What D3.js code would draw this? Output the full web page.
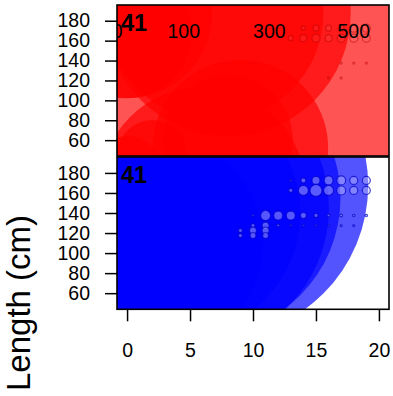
<!DOCTYPE html>
<html><head><meta charset="utf-8">
<script src="https://cdn.jsdelivr.net/npm/d3@7"></script>
<style>
body{margin:0;background:#fff}
svg{display:block}
text{font-family:"Liberation Sans",Arial,Helvetica,sans-serif}
</style>
</head><body>
<svg id="c" width="393" height="396"></svg>
<script>
// ---------- data ----------
const xTicks = [0, 5, 10, 15, 20];
const yTicks = [60, 80, 100, 120, 140, 160, 180];
const panelLabels = ["41", "41"];
const legendValues = [100, 300, 500];
const legendAges = [4.5, 11.3, 18];
const yLabel = "Length (cm)";

// top panel (red): large composition bubbles
const topBigAge = [1, 0, 0, 8, 7, 6, 9, 0, 2, 8];
const topBigLen = [120, 187.5, 167.5, 187.5, 187.5, 10, 52.5, 30, 45, 60];
const topBigN   = [78400, 7225, 4200, 15100, 11700, 10600, 7700, 1160, 1225, 4225];
// top panel (red): small bubbles
const topObsAge = [14,15,16,17,18,19, 13,14,15,16,17,18,19, 17,18,19, 16,17];
const topObsLen = [172.5,172.5,172.5,172.5,172.5,172.5, 162.5,162.5,162.5,162.5,162.5,162.5,162.5, 137.5,137.5,137.5, 122.5,122.5];
const topObsN   = [4,9,9,9,16,16, 6,12,16,12,16,16,16, 1,1,1, 1,1];

// bottom panel (blue): large composition bubbles
const botBigAge = [7, 6, 5, 4, 2];
const botBigLen = [167.5, 155, 145, 140, 110];
const botBigN   = [23400, 19000, 19300, 15100, 12100];
// bottom panel (blue): small bubbles
const botObsAge = [13,14,15,16,17,18,19,
                   13,14,15,16,17,18,19,
                   10,11,12,13,14,15,16,17,18,19,
                   10,11,12,13,14,15,16,17,18,
                   9,10,11,
                   9,10,11];
const botObsLen = [172.5,172.5,172.5,172.5,172.5,172.5,172.5,
                   162.5,162.5,162.5,162.5,162.5,162.5,162.5,
                   137.5,137.5,137.5,137.5,137.5,137.5,137.5,137.5,137.5,137.5,
                   127.5,127.5,127.5,127.5,127.5,127.5,127.5,127.5,127.5,
                   122.5,122.5,122.5,
                   117.5,117.5,117.5];
const botObsN   = [1,6,16,20,20,16,16,
                   4,25,36,25,20,16,16,
                   1,25,20,20,9,4,2,2,1.5,1.5,
                   4,12,2,1,1,1,1,1,1,
                   4,12,12,
                   4,9,9];

// ---------- drawing ----------
const svg = d3.select("#c");
const FS = 19.5;
const x = d3.scaleLinear().domain([-0.8, 20.8]).range([117, 389]);
const r = d3.scaleSqrt().domain([0, 100]).range([0, 10]);

const zip = (a, l, n) => a.map((d, i) => ({age: d, len: l[i], n: n[i]}));

const panels = [
  {rect: [5, 156], range: [155.7, 5.2], big: zip(topBigAge, topBigLen, topBigN),
   obs: zip(topObsAge, topObsLen, topObsN),
   bigFill: "rgba(255,0,0,0.67)", obsFill: "rgba(255,120,120,0.15)", obsStroke: "rgba(190,0,0,0.5)",
   label: panelLabels[0], legend: true},
  {rect: [157, 309.3], range: [308.8, 157.3], big: zip(botBigAge, botBigLen, botBigN),
   obs: zip(botObsAge, botObsLen, botObsN),
   bigFill: "rgba(0,0,255,0.67)", obsFill: "rgba(190,190,255,0.45)", obsStroke: "rgba(0,0,200,0.7)",
   label: panelLabels[1], legend: false}
];

panels.forEach((p, pi) => {
  const y = d3.scaleLinear().domain([44.4, 195.6]).range(p.range);
  const id = "clip" + pi;
  svg.append("clipPath").attr("id", id).append("rect")
    .attr("x", 117).attr("y", p.rect[0]).attr("width", 272).attr("height", p.rect[1] - p.rect[0]);
  const g = svg.append("g").attr("clip-path", `url(#${id})`);

  g.selectAll("circle.big").data(p.big).join("circle").attr("class", "big")
    .attr("cx", d => x(d.age)).attr("cy", d => y(d.len)).attr("r", d => r(d.n))
    .attr("fill", p.bigFill).attr("stroke", "none");

  g.selectAll("circle.obs").data(p.obs).join("circle").attr("class", "obs")
    .attr("cx", d => x(d.age)).attr("cy", d => y(d.len)).attr("r", d => r(d.n))
    .attr("fill", p.obsFill).attr("stroke", p.obsStroke).attr("stroke-width", 1.2);

  if (p.legend) {
    g.selectAll("text.leg").data(legendValues).join("text").attr("class", "leg")
      .attr("x", (d, i) => x(legendAges[i])).attr("y", y(170))
      .attr("dy", "0.35em").attr("text-anchor", "middle")
      .attr("font-size", FS).attr("fill", "#000").text(d => d);
    g.append("text").attr("x", 122.5).attr("y", y(170)).attr("dy", "0.35em")
      .attr("text-anchor", "end").attr("font-size", FS).text("0");
  }

  g.append("text").attr("x", 121).attr("y", p.rect[0] + 25.5)
    .attr("font-size", 23.5).attr("font-weight", "bold").attr("fill", "#000").text(p.label);

  svg.append("rect").attr("x", 117).attr("y", p.rect[0]).attr("width", 272).attr("height", p.rect[1] - p.rect[0])
    .attr("fill", "none").attr("stroke", "#000").attr("stroke-width", 1.6);

  const ya = svg.append("g").attr("transform", "translate(117,0)")
    .call(d3.axisLeft(y).tickValues(yTicks).tickSize(12).tickPadding(15));
  ya.select(".domain").remove();
  ya.selectAll("line").attr("stroke", "#000").attr("stroke-width", 1.5);
  ya.selectAll("text").attr("font-size", FS).attr("fill", "#000")
    .attr("font-family", '"Liberation Sans",Arial,sans-serif');

  if (pi === 1) {
    const xa = svg.append("g").attr("transform", `translate(0,${p.rect[1]})`)
      .call(d3.axisBottom(x).tickValues(xTicks).tickSize(12).tickPadding(21.5));
    xa.select(".domain").remove();
    xa.selectAll("line").attr("stroke", "#000").attr("stroke-width", 1.5);
    xa.selectAll("text").attr("font-size", FS).attr("fill", "#000")
      .attr("font-family", '"Liberation Sans",Arial,sans-serif');
  }
});

svg.append("text").attr("transform", "translate(30.3,303) rotate(-90)")
  .attr("text-anchor", "middle").attr("font-size", 33).attr("fill", "#000").text(yLabel);
</script>
</body></html>
